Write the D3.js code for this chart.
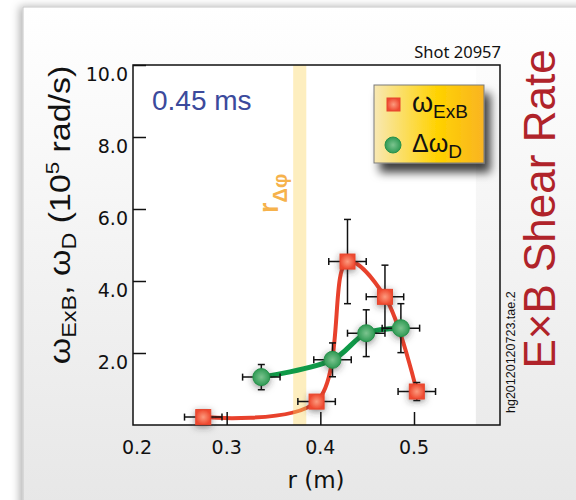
<!DOCTYPE html>
<html lang="en">
<head>
  <meta charset="UTF-8">
  <title>ExB Shear Rate</title>
  <script src="https://d3js.org/d3.v7.min.js"></script>
  <style>
    body { margin: 0; background: #ffffff; }
    svg { display: block; }
  </style>
</head>
<body>
  <script>
    // ExB rate (red squares)
    const rExB = [0.275, 0.396, 0.429, 0.469, 0.503];
    const wExB = [0.22, 0.65, 4.54, 3.56, 0.93];
    const wExBErr = [0.1, 0.15, 1.17, 0.88, 0.25];
    const rExBErr = [0.02, 0.02, 0.02, 0.02, 0.02];

    // delta omega_D (green circles)
    const rD = [0.337, 0.413, 0.449, 0.486];
    const wD = [1.33, 1.81, 2.55, 2.69];
    const wDErr = [0.35, 0.47, 0.65, 0.68];
    const rDErr = [0.02, 0.02, 0.02, 0.02];

    const xTicks = [0.2, 0.3, 0.4, 0.5];
    const yTicks = [2, 4, 6, 8, 10];
    const bandR = [0.371, 0.385];   // r_delta_phi band
    const whiteEdgeR = 0.566;

    const W = 576, H = 500;
    const pLeft = 133, pRight = 500, pTop = 65, pBottom = 425;

    const svg = d3.select("body").append("svg")
        .attr("width", W)
        .attr("height", H);

    const defs = svg.append("defs");

    // card background gradient
    const cardGrad = defs.append("linearGradient")
        .attr("id", "cardGrad").attr("x1", 0).attr("y1", 0).attr("x2", 0).attr("y2", 1);
    cardGrad.append("stop").attr("offset", "0%").attr("stop-color", "#ffffff");
    cardGrad.append("stop").attr("offset", "100%").attr("stop-color", "#e4e4e4");

    // legend gradient
    const legGrad = defs.append("linearGradient")
        .attr("id", "legGrad").attr("x1", 0).attr("y1", 0).attr("x2", 1).attr("y2", 0);
    legGrad.append("stop").attr("offset", "0%").attr("stop-color", "#f8e8b4");
    legGrad.append("stop").attr("offset", "58%").attr("stop-color", "#ffd200");
    legGrad.append("stop").attr("offset", "100%").attr("stop-color", "#f9b423");

    const sqGrad = defs.append("radialGradient").attr("id", "sqGrad");
    sqGrad.append("stop").attr("offset", "0%").attr("stop-color", "#fc9a7e");
    sqGrad.append("stop").attr("offset", "100%").attr("stop-color", "#ef4a30");

    const ciGrad = defs.append("radialGradient").attr("id", "ciGrad");
    ciGrad.append("stop").attr("offset", "0%").attr("stop-color", "#7cc48f");
    ciGrad.append("stop").attr("offset", "100%").attr("stop-color", "#2f9a54");

    // shadows
    const cardShadow = defs.append("filter").attr("id", "cardShadow")
        .attr("x", "-10%").attr("y", "-10%").attr("width", "130%").attr("height", "130%");
    cardShadow.append("feDropShadow").attr("dx", -3).attr("dy", 0)
        .attr("stdDeviation", 4).attr("flood-color", "#000").attr("flood-opacity", 0.3);

    const legShadow = defs.append("filter").attr("id", "legShadow")
        .attr("x", "-20%").attr("y", "-20%").attr("width", "150%").attr("height", "160%");
    legShadow.append("feDropShadow").attr("dx", 6).attr("dy", 9)
        .attr("stdDeviation", 5).attr("flood-color", "#000").attr("flood-opacity", 0.75);

    const mkShadow = defs.append("filter").attr("id", "mkShadow")
        .attr("x", "-100%").attr("y", "-100%").attr("width", "300%").attr("height", "300%");
    mkShadow.append("feDropShadow").attr("dx", 0).attr("dy", 2)
        .attr("stdDeviation", 3.5).attr("flood-color", "#333").attr("flood-opacity", 0.55);

    // card
    svg.append("rect")
        .attr("x", 23).attr("y", 7)
        .attr("width", 620).attr("height", 560)
        .attr("fill", "url(#cardGrad)")
        .attr("stroke", "#c6c6c6")
        .attr("filter", "url(#cardShadow)");

    // scales
    const x = d3.scaleLinear().domain([0.2, 0.5]).range([pLeft, 414]);
    const y = d3.scaleLinear().domain([0, 10]).range([pBottom, pTop]);

    // white plot area
    svg.append("rect")
        .attr("x", pLeft).attr("y", pTop)
        .attr("width", x(whiteEdgeR) - pLeft).attr("height", pBottom - pTop)
        .attr("fill", "#ffffff");

    // curves
    const ptsExB = rExB.map((r, i) => ({ r: r, w: wExB[i], er: rExBErr[i], ew: wExBErr[i] }));
    const ptsD = rD.map((r, i) => ({ r: r, w: wD[i], er: rDErr[i], ew: wDErr[i] }));

    const line = d3.line()
        .x(d => x(d.r))
        .y(d => y(d.w))
        .curve(d3.curveCatmullRom.alpha(0.5));

    svg.append("path")
        .attr("d", line(ptsExB))
        .attr("fill", "none")
        .attr("stroke", "#e8412c")
        .attr("stroke-width", 4)
        .attr("stroke-linecap", "round");

    // r_delta_phi band (over the red line)
    svg.append("rect")
        .attr("x", x(bandR[0])).attr("y", pTop)
        .attr("width", x(bandR[1]) - x(bandR[0])).attr("height", pBottom - pTop)
        .attr("fill", "#f9d55e")
        .attr("opacity", 0.4);

    svg.append("path")
        .attr("d", line(ptsD))
        .attr("fill", "none")
        .attr("stroke", "#0f9a48")
        .attr("stroke-width", 5)
        .attr("stroke-linecap", "round");

    // axes frame
    svg.append("rect")
        .attr("x", pLeft).attr("y", pTop)
        .attr("width", pRight - pLeft).attr("height", pBottom - pTop)
        .attr("fill", "none")
        .attr("stroke", "#111")
        .attr("stroke-width", 1.5);

    // y axis ticks (inward)
    const yAxis = d3.axisRight(y)
        .tickValues(yTicks)
        .tickSize(13)
        .tickFormat("");
    svg.append("g")
        .attr("transform", `translate(${pLeft},0)`)
        .call(yAxis)
        .call(g => g.select(".domain").remove())
        .selectAll("line").attr("stroke", "#111").attr("stroke-width", 1.5);

    svg.append("g").selectAll("text")
        .data(yTicks)
        .enter().append("text")
        .attr("x", pLeft - 5)
        .attr("y", d => y(d) + 16)
        .attr("text-anchor", "end")
        .attr("font-family", "DejaVu Sans")
        .attr("font-size", 19)
        .attr("fill", "#111")
        .text(d => d.toFixed(1));

    // x axis ticks (inward)
    const xAxis = d3.axisTop(x)
        .tickValues(xTicks.filter(d => d > 0.2))
        .tickSize(13)
        .tickFormat("");
    svg.append("g")
        .attr("transform", `translate(0,${pBottom})`)
        .call(xAxis)
        .call(g => g.select(".domain").remove())
        .selectAll("line").attr("stroke", "#111").attr("stroke-width", 1.5);

    svg.append("g").selectAll("text")
        .data(xTicks)
        .enter().append("text")
        .attr("x", d => x(d) + (d === 0.2 ? 4 : 0))
        .attr("y", 454)
        .attr("text-anchor", "middle")
        .attr("font-family", "DejaVu Sans")
        .attr("font-size", 19)
        .attr("fill", "#111")
        .text(d => d.toFixed(1));

    // error bars
    function errorBars(pts) {
        const g = svg.append("g")
            .attr("stroke", "#111")
            .attr("stroke-width", 1.5);
        pts.forEach(d => {
            const cx = x(d.r), cy = y(d.w);
            const x0 = x(d.r - d.er), x1 = x(d.r + d.er);
            const y0 = y(d.w - d.ew), y1 = y(d.w + d.ew);
            g.append("line").attr("x1", x0).attr("x2", x1).attr("y1", cy).attr("y2", cy);
            g.append("line").attr("x1", x0).attr("x2", x0).attr("y1", cy - 3.5).attr("y2", cy + 3.5);
            g.append("line").attr("x1", x1).attr("x2", x1).attr("y1", cy - 3.5).attr("y2", cy + 3.5);
            g.append("line").attr("x1", cx).attr("x2", cx).attr("y1", y0).attr("y2", y1);
            g.append("line").attr("x1", cx - 3.5).attr("x2", cx + 3.5).attr("y1", y0).attr("y2", y0);
            g.append("line").attr("x1", cx - 3.5).attr("x2", cx + 3.5).attr("y1", y1).attr("y2", y1);
        });
    }
    errorBars(ptsExB);
    errorBars(ptsD);

    // markers
    svg.append("g").selectAll("rect")
        .data(ptsExB)
        .enter().append("rect")
        .attr("x", d => x(d.r) - 7.5)
        .attr("y", d => y(d.w) - 7.5)
        .attr("width", 15).attr("height", 15)
        .attr("fill", "url(#sqGrad)")
        .attr("stroke", "#e5452c")
        .attr("stroke-width", 1)
        .attr("filter", "url(#mkShadow)");

    svg.append("g").selectAll("circle")
        .data(ptsD)
        .enter().append("circle")
        .attr("cx", d => x(d.r))
        .attr("cy", d => y(d.w))
        .attr("r", 8.5)
        .attr("fill", "url(#ciGrad)")
        .attr("stroke", "#27904a")
        .attr("stroke-width", 1)
        .attr("filter", "url(#mkShadow)");

    // time label
    svg.append("text")
        .attr("x", 152).attr("y", 110)
        .attr("font-family", "Liberation Sans")
        .attr("font-size", 28)
        .attr("fill", "#3b4a9c")
        .text("0.45 ms");

    // r_delta_phi label
    const rLab = svg.append("text")
        .attr("transform", "translate(278,213) rotate(-90)")
        .attr("font-family", "Liberation Sans")
        .attr("font-weight", "bold")
        .attr("font-size", 27)
        .attr("fill", "#f6b24c");
    rLab.append("tspan").text("r");
    rLab.append("tspan").attr("dy", 9).attr("font-size", 20).text("Δφ");

    // shot label
    svg.append("text")
        .attr("x", 501).attr("y", 58)
        .attr("text-anchor", "end")
        .attr("font-family", "Noto Sans")
        .attr("font-size", 16.5)
        .attr("fill", "#111")
        .text("Shot 20957");

    // legend
    const leg = svg.append("g");
    leg.append("rect")
        .attr("x", 374).attr("y", 85)
        .attr("width", 110).attr("height", 78)
        .attr("fill", "url(#legGrad)")
        .attr("stroke", "#7a7a7a")
        .attr("stroke-width", 1)
        .attr("filter", "url(#legShadow)");
    leg.append("rect")
        .attr("x", 387).attr("y", 98)
        .attr("width", 13).attr("height", 13)
        .attr("fill", "url(#sqGrad)")
        .attr("stroke", "#e5452c");
    leg.append("circle")
        .attr("cx", 393).attr("cy", 145).attr("r", 8)
        .attr("fill", "url(#ciGrad)")
        .attr("stroke", "#27904a");
    const l1 = leg.append("text")
        .attr("x", 412).attr("y", 112)
        .attr("font-family", "Liberation Sans")
        .attr("font-size", 27)
        .attr("fill", "#111");
    l1.append("tspan").text("ω");
    l1.append("tspan").attr("dy", 6).attr("font-size", 19).text("ExB");
    const l2 = leg.append("text")
        .attr("x", 412).attr("y", 152)
        .attr("font-family", "Liberation Sans")
        .attr("font-size", 25)
        .attr("fill", "#111");
    l2.append("tspan").text("Δω");
    l2.append("tspan").attr("dy", 6).attr("font-size", 19).text("D");

    // y title (stretched along its length like the original)
    const yt = svg.append("text")
        .attr("transform", "translate(70,215) rotate(-90) scale(1.17,1)")
        .attr("text-anchor", "middle")
        .attr("font-family", "Liberation Sans")
        .attr("font-size", 29)
        .attr("fill", "#111");
    yt.append("tspan").text("ω");
    yt.append("tspan").attr("dy", 6).attr("font-size", 20).text("ExB");
    yt.append("tspan").attr("dy", -6).text(", ω");
    yt.append("tspan").attr("dy", 6).attr("font-size", 20).text("D");
    yt.append("tspan").attr("dy", -6).text(" (10");
    yt.append("tspan").attr("dy", -11).attr("font-size", 19).text("5");
    yt.append("tspan").attr("dy", 11).text(" rad/s)");

    // x title
    svg.append("text")
        .attr("x", 316).attr("y", 488)
        .attr("text-anchor", "middle")
        .attr("font-family", "DejaVu Sans")
        .attr("font-size", 23)
        .attr("fill", "#111")
        .text("r (m)");

    // file tag
    svg.append("text")
        .attr("transform", "translate(515,413) rotate(-90)")
        .attr("font-family", "Liberation Sans")
        .attr("font-size", 12.5)
        .attr("fill", "#111")
        .text("hg20120120723.tae.2");

    // right title
    svg.append("text")
        .attr("transform", "translate(555,209) rotate(-90)")
        .attr("text-anchor", "middle")
        .attr("font-family", "Liberation Sans")
        .attr("font-size", 44)
        .attr("fill", "#b0232a")
        .text("E×B Shear Rate");
  </script>
</body>
</html>
